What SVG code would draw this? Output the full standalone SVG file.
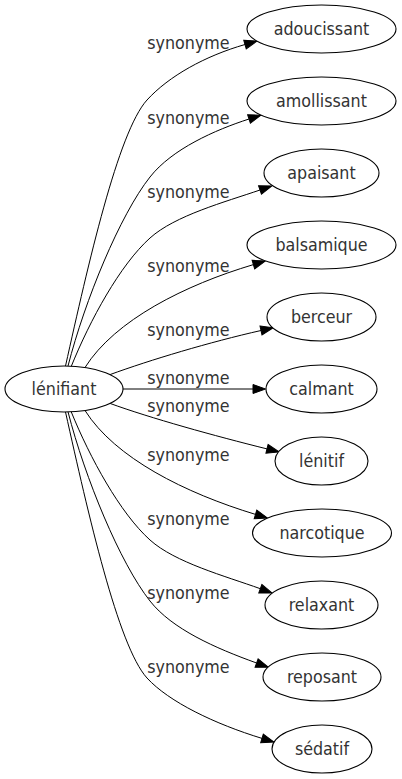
<svg xmlns="http://www.w3.org/2000/svg" width="402" height="779" viewBox="0 0 402 779">
<defs>
<style>
.n ellipse{fill:#fff;stroke:#000;stroke-width:1.1}
text{font-family:'DejaVu Sans Condensed','DejaVu Sans',sans-serif;font-stretch:condensed;font-size:17.7px;fill:#333;text-anchor:middle}
.e path{fill:none;stroke:#000;stroke-width:1;marker-end:url(#ah)}
</style>
<marker id="ah" markerUnits="userSpaceOnUse" markerWidth="14" markerHeight="10" refX="0" refY="4.5" orient="auto" overflow="visible">
<path d="M0,0 L12.5,4.5 L0,9 z" fill="#000" stroke="#000" stroke-width="1"/>
</marker>
</defs>
<rect width="402" height="779" fill="#fff"/>
<g id="edges" class="e">
<path d="M65.5,366 C88,265 118,132 147,100 C169,76 205,56 245,44.5"/>
<path d="M68,366 C85,300 120,215 150,177 C172,149 215,130 249,119"/>
<path d="M71,367 C90,320 120,265 150,238 C175,215.5 225,202 260,190"/>
<path d="M85,367.5 C115,320 185,285 253.4,264.6"/>
<path d="M110,374.6 C150,360 210,342 261,330.5"/>
<path d="M123,389 L253,389"/>
<path d="M110,403.4 C150,418 215,436 267,448.9"/>
<path d="M85,410.5 C115,458 185,493 255.5,514.4"/>
<path d="M71,411.3 C90,458 120,513 150,540 C175,562.5 225,576 260.3,588.7"/>
<path d="M68,411.8 C85,478 120,563 150,601 C172,629 215,648 256.6,663"/>
<path d="M65.5,412 C88,513 118,646 147,678 C169,702 215,724 262,738.4"/>
</g>
<g id="labels">
<text x="188.5" y="49">synonyme</text>
<text x="188.5" y="124">synonyme</text>
<text x="188.5" y="198">synonyme</text>
<text x="188.5" y="272">synonyme</text>
<text x="188.5" y="336">synonyme</text>
<text x="188.5" y="384">synonyme</text>
<text x="188.5" y="412">synonyme</text>
<text x="188.5" y="461">synonyme</text>
<text x="188.5" y="525">synonyme</text>
<text x="188.5" y="599">synonyme</text>
<text x="188.5" y="673">synonyme</text>
</g>
<g id="lenifiant" class="n"><ellipse cx="64" cy="389" rx="59" ry="23"/><text x="64" y="395">lénifiant</text></g>
<g id="adoucissant" class="n"><ellipse cx="321.5" cy="29" rx="74.5" ry="24"/><text x="321.5" y="35">adoucissant</text></g>
<g id="amollissant" class="n"><ellipse cx="321.5" cy="101" rx="74.5" ry="24"/><text x="321.5" y="107">amollissant</text></g>
<g id="apaisant" class="n"><ellipse cx="321.5" cy="173" rx="57.5" ry="24"/><text x="321.5" y="179">apaisant</text></g>
<g id="balsamique" class="n"><ellipse cx="321.5" cy="245" rx="74.5" ry="24"/><text x="321.5" y="251">balsamique</text></g>
<g id="berceur" class="n"><ellipse cx="321.5" cy="317" rx="54.5" ry="24"/><text x="321.5" y="323">berceur</text></g>
<g id="calmant" class="n"><ellipse cx="321.5" cy="389" rx="55.5" ry="24"/><text x="321.5" y="395">calmant</text></g>
<g id="lenitif" class="n"><ellipse cx="321.5" cy="461" rx="46.5" ry="24"/><text x="321.5" y="467">lénitif</text></g>
<g id="narcotique" class="n"><ellipse cx="322" cy="533" rx="69.5" ry="24"/><text x="322" y="539">narcotique</text></g>
<g id="relaxant" class="n"><ellipse cx="321.5" cy="605" rx="56.5" ry="24"/><text x="321.5" y="611">relaxant</text></g>
<g id="reposant" class="n"><ellipse cx="322" cy="677" rx="59" ry="24"/><text x="322" y="683">reposant</text></g>
<g id="sedatif" class="n"><ellipse cx="322" cy="749" rx="50" ry="24"/><text x="322" y="755">sédatif</text></g>
</svg>
